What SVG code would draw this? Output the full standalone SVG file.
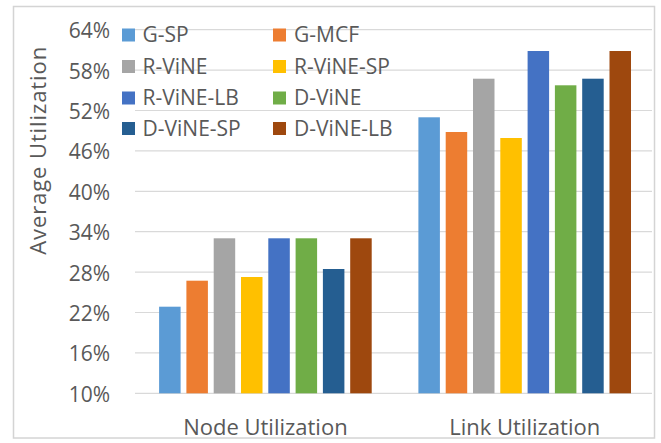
<svg xmlns="http://www.w3.org/2000/svg" width="661" height="443" viewBox="0 0 661 443">
<style>
.t{font-family:"Open Sans","Noto Sans","Liberation Sans",sans-serif;fill:#595959}
.tick{font-size:21px;text-anchor:end}
.leg{font-size:21px}
.cat{font-size:22px;text-anchor:middle}
.grid line{stroke:#d9d9d9;stroke-width:1.2}
.c1{fill:#5B9BD5}.c2{fill:#ED7D31}.c3{fill:#A5A5A5}.c4{fill:#FFC000}
.c5{fill:#4472C4}.c6{fill:#70AD47}.c7{fill:#255E91}.c8{fill:#9E480E}
</style>
<rect x="0" y="0" width="661" height="443" fill="#ffffff"/>
<rect x="13.5" y="6.5" width="641" height="431.5" fill="none" stroke="#d4d4d4" stroke-width="1.5"/>
<g class="grid">
<line x1="135" y1="393.3" x2="652" y2="393.3"/>
<line x1="135" y1="352.9" x2="652" y2="352.9"/>
<line x1="135" y1="312.5" x2="652" y2="312.5"/>
<line x1="135" y1="272.1" x2="652" y2="272.1"/>
<line x1="135" y1="231.7" x2="652" y2="231.7"/>
<line x1="135" y1="191.3" x2="652" y2="191.3"/>
<line x1="135" y1="150.9" x2="652" y2="150.9"/>
<line x1="135" y1="110.5" x2="652" y2="110.5"/>
<line x1="135" y1="70.1" x2="652" y2="70.1"/>
<line x1="135" y1="29.7" x2="652" y2="29.7"/>
</g>
<g id="yaxis" class="t tick">
<text x="110" y="401.8">10%</text>
<text x="110" y="361.4">16%</text>
<text x="110" y="321">22%</text>
<text x="110" y="280.6">28%</text>
<text x="110" y="240.2">34%</text>
<text x="110" y="199.8">40%</text>
<text x="110" y="159.4">46%</text>
<text x="110" y="119">52%</text>
<text x="110" y="78.6">58%</text>
<text x="110" y="38.2">64%</text>
</g>
<text id="ytitle" class="t" font-size="22" text-anchor="middle" transform="translate(46,150.8) rotate(-90)" textLength="208" lengthAdjust="spacing">Average Utilization</text>
<g id="node-bars">
<rect class="c1" x="159.1" y="306.7" width="21.5" height="86.6"/>
<rect class="c2" x="186.4" y="280.7" width="21.5" height="112.6"/>
<rect class="c3" x="213.7" y="238.3" width="21.5" height="155"/>
<rect class="c4" x="241" y="277" width="21.5" height="116.3"/>
<rect class="c5" x="268.3" y="238.3" width="21.5" height="155"/>
<rect class="c6" x="295.6" y="238.3" width="21.5" height="155"/>
<rect class="c7" x="322.9" y="269" width="21.5" height="124.3"/>
<rect class="c8" x="350.2" y="238.3" width="21.5" height="155"/>
</g>
<g id="link-bars">
<rect class="c1" x="418.4" y="117.3" width="21.5" height="276"/>
<rect class="c2" x="445.7" y="132" width="21.5" height="261.3"/>
<rect class="c3" x="473" y="78.7" width="21.5" height="314.6"/>
<rect class="c4" x="500.3" y="138" width="21.5" height="255.3"/>
<rect class="c5" x="527.6" y="51" width="21.5" height="342.3"/>
<rect class="c6" x="554.9" y="85.3" width="21.5" height="308"/>
<rect class="c7" x="582.2" y="78.7" width="21.5" height="314.6"/>
<rect class="c8" x="609.5" y="51" width="21.5" height="342.3"/>
</g>
<g id="xaxis" class="t cat">
<text x="265.4" y="434.5">Node Utilization</text>
<text x="524.7" y="434.5">Link Utilization</text>
</g>
<g id="legend" class="t leg">
<g id="leg-gsp"><rect class="c1" x="122" y="28.5" width="13" height="13"/><text x="142.5" y="42.3">G-SP</text></g>
<g id="leg-gmcf"><rect class="c2" x="273" y="28.5" width="13" height="13"/><text x="294" y="42.3">G-MCF</text></g>
<g id="leg-rvine"><rect class="c3" x="122" y="60" width="13" height="13"/><text x="142.5" y="73.8">R-ViNE</text></g>
<g id="leg-rvinesp"><rect class="c4" x="273" y="60" width="13" height="13"/><text x="294" y="73.8">R-ViNE-SP</text></g>
<g id="leg-rvinelb"><rect class="c5" x="122" y="91.5" width="13" height="13"/><text x="142.5" y="105.3">R-ViNE-LB</text></g>
<g id="leg-dvine"><rect class="c6" x="273" y="91.5" width="13" height="13"/><text x="294" y="105.3">D-ViNE</text></g>
<g id="leg-dvinesp"><rect class="c7" x="122" y="122" width="13" height="13"/><text x="142.5" y="135.8">D-ViNE-SP</text></g>
<g id="leg-dvinelb"><rect class="c8" x="273" y="122" width="13" height="13"/><text x="294" y="135.8">D-ViNE-LB</text></g>
</g>
</svg>
